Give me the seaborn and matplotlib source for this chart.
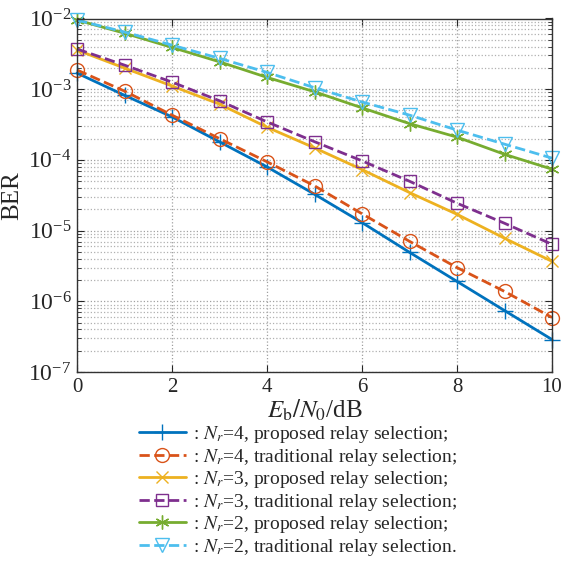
import numpy as np
import pandas as pd
import matplotlib
matplotlib.use('Agg')
import matplotlib.pyplot as plt
import seaborn as sns

snr_db = [0, 1, 2, 3, 4, 5, 6, 7, 8, 9, 10]

ber_nr4_proposed = [1.69e-3, 8.2e-4, 4.06e-4, 1.8e-4, 7.96e-5, 3.27e-5, 1.3e-5, 4.93e-6, 1.91e-6, 7.4e-7, 2.88e-7]
ber_nr4_traditional = [1.87e-3, 9.4e-4, 4.3e-4, 2.0e-4, 9.4e-5, 4.3e-5, 1.73e-5, 7.05e-6, 3.0e-6, 1.38e-6, 5.9e-7]
ber_nr3_proposed = [3.58e-3, 1.99e-3, 1.11e-3, 6.15e-4, 2.9e-4, 1.48e-4, 7.3e-5, 3.45e-5, 1.7e-5, 7.8e-6, 3.67e-6]
ber_nr3_traditional = [3.7e-3, 2.19e-3, 1.26e-3, 6.86e-4, 3.45e-4, 1.81e-4, 9.7e-5, 4.99e-5, 2.44e-5, 1.27e-5, 6.4e-6]
ber_nr2_proposed = [9.5e-3, 6.2e-3, 3.9e-3, 2.44e-3, 1.47e-3, 9.2e-4, 5.45e-4, 3.26e-4, 2.1e-4, 1.2e-4, 7.4e-5]
ber_nr2_traditional = [9.5e-3, 6.44e-3, 4.2e-3, 2.73e-3, 1.73e-3, 1.05e-3, 6.6e-4, 4.3e-4, 2.64e-4, 1.67e-4, 1.06e-4]

labels = [
    r': $N_r$=4, proposed relay selection;',
    r': $N_r$=4, traditional relay selection;',
    r': $N_r$=3, proposed relay selection;',
    r': $N_r$=3, traditional relay selection;',
    r': $N_r$=2, proposed relay selection;',
    r': $N_r$=2, traditional relay selection.',
]

sns.set_style('ticks')
plt.rcParams['font.family'] = ['Liberation Serif', 'DejaVu Serif']
plt.rcParams['mathtext.fontset'] = 'stix'
plt.rcParams['font.size'] = 16

series = [ber_nr4_proposed, ber_nr4_traditional, ber_nr3_proposed,
          ber_nr3_traditional, ber_nr2_proposed, ber_nr2_traditional]
colors = ['#0072BD', '#D95319', '#EDB120', '#7E2F8E', '#77AC30', '#4DBEEE']
markers = ['+', 'o', 'x', 's', (6, 2, 0), 'v']
styles = ['-', '--', '-', '--', '-', '--']
msizes = [11, 10, 8, 8, 10, 10]

fig = plt.figure(figsize=(5.62, 5.64), dpi=100)
ax = fig.add_axes([77 / 562, 1 - 372 / 564, 475 / 562, 353.5 / 564])

for vals, lab, c, m, ls, ms in zip(series, labels, colors, markers, styles, msizes):
    df = pd.DataFrame({'snr': snr_db, 'ber': vals})
    sns.lineplot(data=df, x='snr', y='ber', ax=ax, color=c, marker=m, linestyle=ls,
                 markersize=ms, markerfacecolor='none', markeredgecolor=c,
                 markeredgewidth=1.0, linewidth=2.0, label=lab, clip_on=False,
                 dashes=False if ls == '-' else (4, 2.5))

ax.set_yscale('log')
ax.set_xlim(0, 10)
ax.set_ylim(1e-7, 1e-2)
ax.set_xticks([0, 2, 4, 6, 8, 10])
ax.set_yticks([1e-7, 1e-6, 1e-5, 1e-4, 1e-3, 1e-2])
ax.yaxis.set_minor_locator(matplotlib.ticker.LogLocator(base=10, subs=np.arange(2, 10)))
ax.yaxis.set_minor_formatter(matplotlib.ticker.NullFormatter())
ax.tick_params(which='both', direction='in', top=True, right=True, labelsize=17)
ax.tick_params(axis='x', labelsize=15)
ax.tick_params(which='major', length=5, pad=4)
ax.tick_params(which='minor', length=3)
ax.grid(True, which='major', linestyle=':', color='#a0a0a0', linewidth=0.9)
ax.grid(True, which='minor', axis='y', linestyle=':', color='#b0b0b0', linewidth=0.9)
for s in ax.spines.values():
    s.set_linewidth(1.0)
    s.set_color('#333333')

ax.set_xlabel(r'$E_\mathrm{b}/N_0$/dB', fontsize=18, labelpad=1)
ax.set_ylabel('BER', fontsize=18, labelpad=4)

handles, labs = ax.get_legend_handles_labels()
ax.get_legend().remove()
fig.legend(handles, labs, loc='upper left', bbox_to_anchor=(139 / 562, 1 - 424 / 564),
           frameon=False, fontsize=14, handlelength=2.4, handletextpad=0.4,
           labelspacing=0.08, borderaxespad=0, borderpad=0)

fig.savefig('out.png', dpi=100)
